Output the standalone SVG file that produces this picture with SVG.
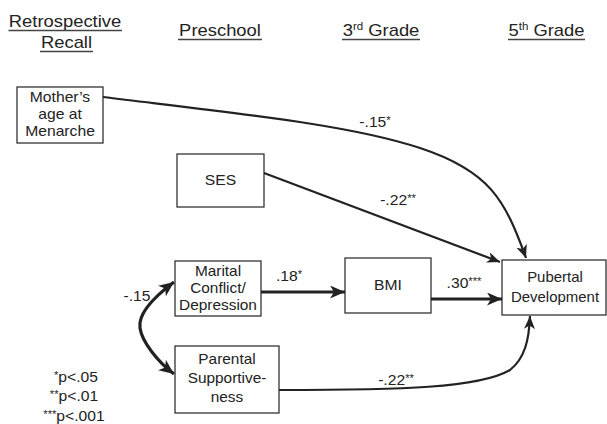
<svg xmlns="http://www.w3.org/2000/svg" width="607" height="424" viewBox="0 0 607 424">
<style>
  text { font-family: "Liberation Sans", Arial, sans-serif; fill: #222; text-anchor: middle; }
  .h { font-size: 16px; }
  .t { font-size: 14px; }
  .sup { font-size: 10px; }
  .box { fill: #fff; stroke: #222; stroke-width: 1.2; }
  .ul { stroke: #444; stroke-width: 1.3; }
  .c { fill: none; stroke: #222; stroke-width: 2.2; }
  .ct { fill: none; stroke: #222; stroke-width: 3.2; }
</style>
<defs>
  <marker id="a" markerUnits="userSpaceOnUse" markerWidth="14" markerHeight="12" refX="13" refY="5.5" orient="auto-start-reverse">
    <path d="M0,0 L13,5.5 L0,11 L3.5,5.5 z" fill="#222"/>
  </marker>
  <marker id="ab" markerUnits="userSpaceOnUse" markerWidth="16" markerHeight="14" refX="15" refY="6.5" orient="auto-start-reverse">
    <path d="M0,0 L15,6.5 L0,13 L4,6.5 z" fill="#222"/>
  </marker>
</defs>

<g id="headers">
  <text class="h" transform="translate(65,27) scale(1.15,1)">Retrospective</text>
  <line class="ul" x1="8.5" y1="30.5" x2="122" y2="30.5"/>
  <text class="h" transform="translate(66.5,48) scale(1.15,1)">Recall</text>
  <line class="ul" x1="40" y1="51.5" x2="93" y2="51.5"/>
  <text class="h" transform="translate(220,36) scale(1.15,1)">Preschool</text>
  <line class="ul" x1="178" y1="39.5" x2="262" y2="39.5"/>
  <text class="h" transform="translate(381,36) scale(1.15,1)">3<tspan class="sup" dy="-6">rd</tspan><tspan dy="6"> Grade</tspan></text>
  <line class="ul" x1="342" y1="39.5" x2="420" y2="39.5"/>
  <text class="h" transform="translate(546.5,36) scale(1.15,1)">5<tspan class="sup" dy="-6">th</tspan><tspan dy="6"> Grade</tspan></text>
  <line class="ul" x1="508" y1="39.5" x2="585" y2="39.5"/>
</g>

<g id="connectors">
  <path class="c" d="M103,97 C250,115 350,125 420,148 S505,200 526,258" marker-end="url(#a)"/>
  <path class="c" d="M264,173 L500,262" marker-end="url(#a)"/>
  <path class="ct" d="M261,292 L345,292" marker-end="url(#ab)"/>
  <path class="ct" d="M431,299 L502,299" marker-end="url(#ab)"/>
  <path class="c" d="M279,390 C400,390 480,388 510,370 C525,358 529,340 530,316" marker-end="url(#a)"/>
  <path class="ct" d="M174,282 C150,300 138,315 140,328 C142,342 158,362 174,374" marker-start="url(#ab)" marker-end="url(#ab)"/>
</g>

<g id="labels">
  <text class="t" transform="translate(375,127) scale(1.12,1)">-.15<tspan class="sup" dy="-3">*</tspan></text>
  <text class="t" transform="translate(398,205) scale(1.12,1)">-.22<tspan class="sup" dy="-3">**</tspan></text>
  <text class="t" transform="translate(289,281) scale(1.12,1)">.18<tspan class="sup" dy="-3">*</tspan></text>
  <text class="t" transform="translate(464,288) scale(1.12,1)">.30<tspan class="sup" dy="-3">***</tspan></text>
  <text class="t" transform="translate(396,385) scale(1.12,1)">-.22<tspan class="sup" dy="-3">**</tspan></text>
  <text class="t" transform="translate(137,301) scale(1.12,1)">-.15</text>
</g>

<g id="mother">
  <rect class="box" x="17" y="87" width="86" height="56"/>
  <text class="t" transform="translate(60,0) scale(1.12,1)"><tspan x="0" y="102">Mother’s</tspan><tspan x="0" y="119">age at</tspan><tspan x="0" y="136">Menarche</tspan></text>
</g>
<g id="ses">
  <rect class="box" x="177" y="154" width="87" height="53"/>
  <text class="t" transform="translate(220.5,184.5) scale(1.12,1)">SES</text>
</g>
<g id="marital">
  <rect class="box" x="175" y="261" width="86" height="55"/>
  <text class="t" transform="translate(218,0) scale(1.1,1)"><tspan x="0" y="276">Marital</tspan><tspan x="0" y="293">Conflict/</tspan><tspan x="0" y="310">Depression</tspan></text>
</g>
<g id="parental">
  <rect class="box" x="175" y="346" width="104" height="67"/>
  <text class="t" transform="translate(227,0) scale(1.1,1)"><tspan x="0" y="364">Parental</tspan><tspan x="0" y="383">Supportive-</tspan><tspan x="0" y="402">ness</tspan></text>
</g>
<g id="bmi">
  <rect class="box" x="345" y="258" width="86" height="55"/>
  <text class="t" transform="translate(388,290) scale(1.12,1)">BMI</text>
</g>
<g id="pubertal">
  <rect class="box" x="502" y="260" width="104" height="55"/>
  <text class="t" transform="translate(555,0) scale(1.07,1)"><tspan x="0" y="282">Pubertal</tspan><tspan x="0" y="302">Development</tspan></text>
</g>

<g id="legend">
  <text class="t" transform="translate(76,382) scale(1.12,1)"><tspan class="sup" dy="-3">*</tspan><tspan dy="3">p&lt;.05</tspan></text>
  <text class="t" transform="translate(74,401) scale(1.12,1)"><tspan class="sup" dy="-3">**</tspan><tspan dy="3">p&lt;.01</tspan></text>
  <text class="t" transform="translate(74,421) scale(1.12,1)"><tspan class="sup" dy="-3">***</tspan><tspan dy="3">p&lt;.001</tspan></text>
</g>
</svg>
